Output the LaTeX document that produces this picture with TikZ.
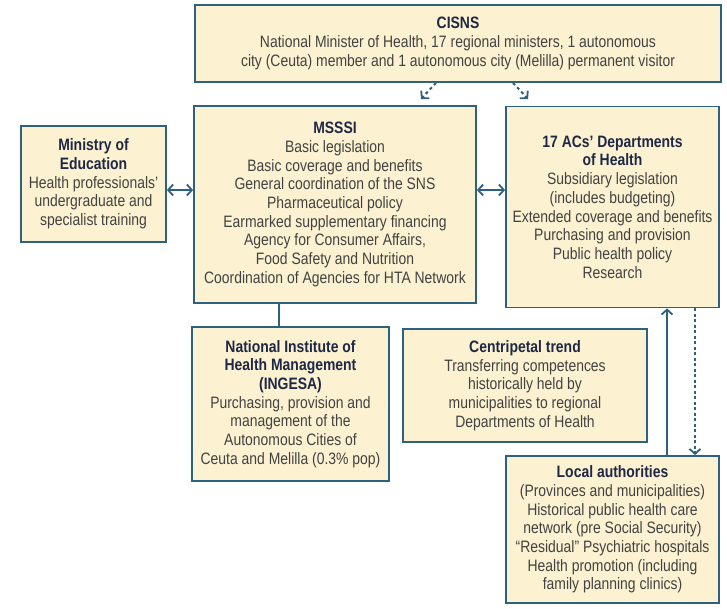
\documentclass[tikz,border=0pt]{standalone}
\usepackage{fontspec}
\setmainfont{Liberation Sans}[FakeStretch=0.845]
\usetikzlibrary{arrows.meta}
\definecolor{boxline}{RGB}{44,98,128}
\definecolor{boxfill}{RGB}{252,241,208}
\definecolor{titlecol}{RGB}{30,40,70}
\definecolor{bodycol}{RGB}{66,66,66}
\newcommand{\boxtitle}[1]{{\color{titlecol}\bfseries #1}}
\tikzset{
  orgbox/.style={draw=boxline, fill=boxfill, line width=1.8pt, inner sep=0pt,
    align=center, text=bodycol, font=\fontsize{16.5}{18.7}\selectfont},
  link/.style={draw=boxline, line width=2pt},
  tip/.style={arrows={#1}},
  barb/.tip={Straight Barb[length=5pt,width=11pt,line width=1.8pt]}
}
\begin{document}
\begin{tikzpicture}[x=1pt,y=-1pt]
\useasboundingbox (0,0) rectangle (727,608);
\node[orgbox, minimum width=526pt, minimum height=77pt] (cisns) at (458,43.5)
  {\boxtitle{CISNS}\\National Minister of Health, 17 regional ministers, 1 autonomous\\city (Ceuta) member and 1 autonomous city (Melilla) permanent visitor};
\node[orgbox, minimum width=282pt, minimum height=197pt] (msssi) at (335,204.5)
  {\boxtitle{MSSSI}\\Basic legislation\\Basic coverage and benefits\\General coordination of the SNS\\Pharmaceutical policy\\Earmarked supplementary financing\\Agency for Consumer Affairs,\\Food Safety and Nutrition\\Coordination of Agencies for HTA Network};
\node[orgbox, minimum width=145pt, minimum height=116pt] (edu) at (93.5,184)
  {\boxtitle{Ministry of}\\\boxtitle{Education}\\Health professionals'\\undergraduate and\\specialist training};
\node[orgbox, minimum width=213pt, minimum height=201pt] (acs) at (612.5,207)
  {\boxtitle{17 ACs' Departments}\\\boxtitle{of Health}\\Subsidiary legislation\\(includes budgeting)\\Extended coverage and benefits\\Purchasing and provision\\Public health policy\\Research};
\node[orgbox, minimum width=197pt, minimum height=154pt] (ingesa) at (290.5,404)
  {\boxtitle{National Institute of}\\\boxtitle{Health Management}\\\boxtitle{(INGESA)}\\Purchasing, provision and\\management of the\\Autonomous Cities of\\Ceuta and Melilla (0.3\% pop)};
\node[orgbox, minimum width=244pt, minimum height=113pt] (trend) at (525,385.5)
  {\boxtitle{Centripetal trend}\\Transferring competences\\historically held by\\municipalities to regional\\Departments of Health};
\node[orgbox, minimum width=213pt, minimum height=147pt] (local) at (612.5,529.5)
  {\boxtitle{Local authorities}\\(Provinces and municipalities)\\Historical public health care\\network (pre Social Security)\\``Residual'' Psychiatric hospitals\\Health promotion (including\\family planning clinics)};
\coordinate (lvl) at (0,190);
\coordinate (toleft) at (421,99);
\coordinate (toright) at (528,99);
\draw[link, tip={barb-barb}] (edu.east |- lvl) -- (msssi.west |- lvl);
\draw[link, tip={barb-barb}] (msssi.east |- lvl) -- (acs.west |- lvl);
\draw[link, tip={-barb}, dash pattern=on 3pt off 3pt] (cisns.south -| 436,0) -- (toleft);
\draw[link, tip={-barb}, dash pattern=on 3pt off 3pt] (cisns.south -| 513,0) -- (toright);
\draw[link] (msssi.south -| 279,0) -- (ingesa.north -| 279,0);
\draw[link, tip={-barb}] (local.north -| 667,0) -- (acs.south -| 667,0);
\draw[link, tip={-barb}, dash pattern=on 3pt off 2.5pt] (acs.south -| 695,0) -- (local.north -| 695,0);
\end{tikzpicture}
\end{document}
